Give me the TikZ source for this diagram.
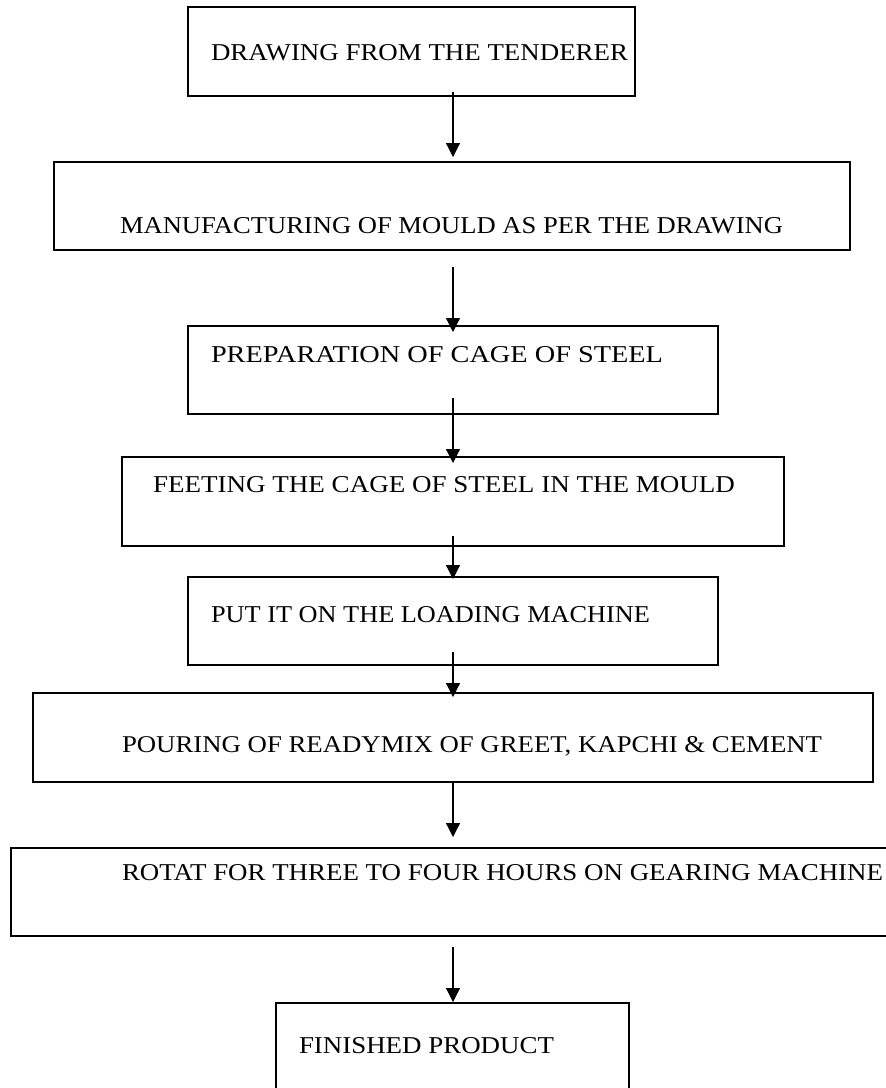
\documentclass[tikz,border=0pt]{standalone}
\usepackage{fontspec}
\setmainfont{Liberation Serif}
\usepackage{graphicx}
\usetikzlibrary{arrows.meta,calc}
\newcommand{\fitt}[2]{\resizebox{#1pt}{16pt}{#2}}
\tikzset{
  boxnode/.style={draw, line width=1.5pt, rectangle, inner sep=0pt, outer sep=0pt, anchor=north west},
  txt/.style={inner sep=0pt, outer sep=0pt, anchor=base west},
  arr/.style={line width=1.2pt, -{Triangle[width=14pt,length=14pt]}}
}
\begin{document}
\begin{tikzpicture}[x=1pt,y=-1pt]
\useasboundingbox (0,0) rectangle (886,1088);
\clip (0,0) rectangle (886,1088);
\fill[white] (0,0) rectangle (886,1088);
\coordinate (ax) at (453,0);
\node[boxnode, minimum width=447pt, minimum height=89pt] (b1) at (188,7) {};
\node[boxnode, minimum width=796pt, minimum height=88pt] (b2) at (54,162) {};
\node[boxnode, minimum width=530pt, minimum height=88pt] (b3) at (188,326) {};
\node[boxnode, minimum width=662pt, minimum height=89pt] (b4) at (122,457) {};
\node[boxnode, minimum width=530pt, minimum height=88pt] (b5) at (188,577) {};
\node[boxnode, minimum width=840pt, minimum height=89pt] (b6) at (33,693) {};
\node[boxnode, minimum width=900pt, minimum height=88pt] (b7) at (11,848) {};
\node[boxnode, minimum width=353pt, minimum height=100pt] (b8) at (276,1003) {};
\node[txt] (t1) at (211,60) {\fitt{417}{DRAWING FROM THE TENDERER}};
\node[txt] (t2) at (120,233) {\fitt{663}{MANUFACTURING OF MOULD AS PER THE DRAWING}};
\node[txt] (t3) at (211,362) {\fitt{452}{PREPARATION OF CAGE OF STEEL}};
\node[txt] (t4) at (153,492) {\fitt{582}{FEETING THE CAGE OF STEEL IN THE MOULD}};
\node[txt] (t5) at (211,622) {\fitt{439}{PUT IT ON THE LOADING MACHINE}};
\node[txt] (t6) at (122,752) {\fitt{700}{POURING OF READYMIX OF GREET, KAPCHI \& CEMENT}};
\node[txt] (t7) at (122,880) {\fitt{761}{ROTAT FOR THREE TO FOUR HOURS ON GEARING MACHINE}};
\node[txt] (t8) at (299,1053) {\fitt{255}{FINISHED PRODUCT}};
\draw[arr] ($(b1.south -| ax)+(0,4pt)$) -- ($(b2.north -| ax)+(0,5pt)$);
\draw[arr] ($(b2.south -| ax)+(0,-17pt)$) -- ($(b3.north -| ax)+(0,-6pt)$);
\draw[arr] ($(b3.south -| ax)+(0,16pt)$) -- ($(b4.north -| ax)+(0,-6pt)$);
\draw[arr] ($(b4.south -| ax)+(0,10pt)$) -- ($(b5.north -| ax)+(0,-2pt)$);
\draw[arr] ($(b5.south -| ax)+(0,13pt)$) -- ($(b6.north -| ax)+(0,-4pt)$);
\draw[arr] ($(b6.south -| ax)+(0,0pt)$) -- ($(b7.north -| ax)+(0,11pt)$);
\draw[arr] ($(b7.south -| ax)+(0,-11pt)$) -- ($(b8.north -| ax)+(0,1pt)$);
\end{tikzpicture}
\end{document}
